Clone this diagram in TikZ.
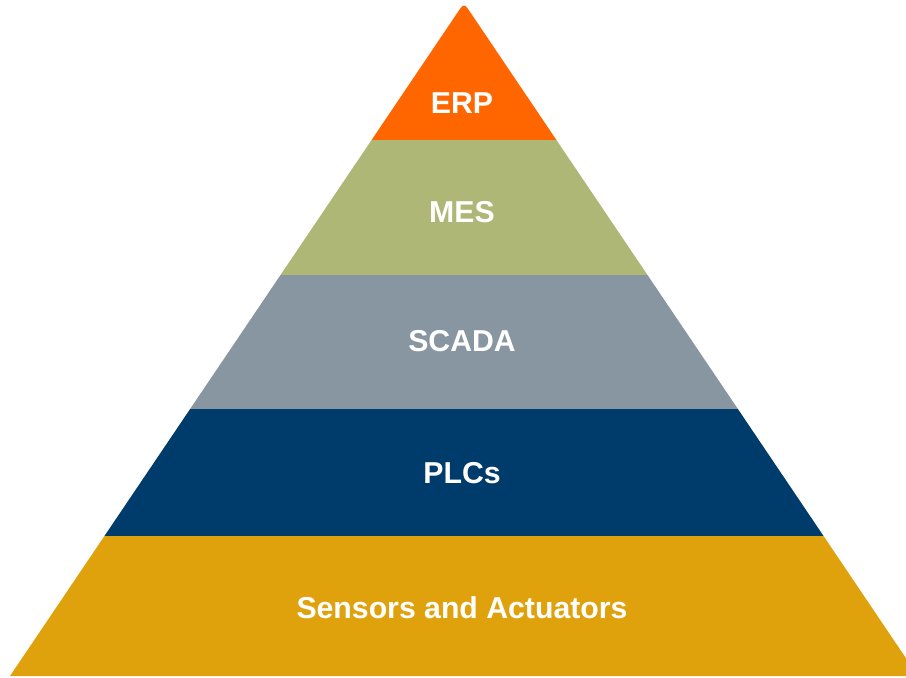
\documentclass[tikz,border=0pt]{standalone}
\usepackage{fontspec}
\setmainfont{Liberation Sans}
\usetikzlibrary{calc}
\definecolor{erpcol}{HTML}{FF6600}
\definecolor{mescol}{HTML}{AEB776}
\definecolor{scadacol}{HTML}{8796A0}
\definecolor{plccol}{HTML}{003C6B}
\definecolor{sensorcol}{HTML}{E0A20C}
\newcommand{\band}[3]{ \fill[#3] ( 0 , #1 ) rectangle ( 906 , #2 );}
\tikzset{lbl/.style={text=white, font=\bfseries\fontsize{21.5}{25}\selectfont}}

\begin{document}
\begin{tikzpicture}[x=0.025cm, y=-0.025cm]
        \useasboundingbox (0,0) rectangle (906,677);

        \begin{scope}
        \clip (10,676) [rounded corners=4pt]-- (464,3) [sharp corners]-- (918,676) -- cycle;
        % layers, top to bottom
        \band{0}{140}{erpcol}
        \band{140}{275}{mescol}
        \band{275}{409}{scadacol}
        \band{409}{536}{plccol}
        \band{536}{677}{sensorcol}
        \end{scope}

        \node[lbl] (erp) at (462,103) {ERP};
        \node[lbl] (mes) at (462,212) {MES};
        \node[lbl] (scada) at (462,341) {SCADA};
        \node[lbl] (plc) at (462,473) {PLCs};
        \node[lbl] (sensors) at (462,608) {Sensors and Actuators};
    \end{tikzpicture}
\end{document}
